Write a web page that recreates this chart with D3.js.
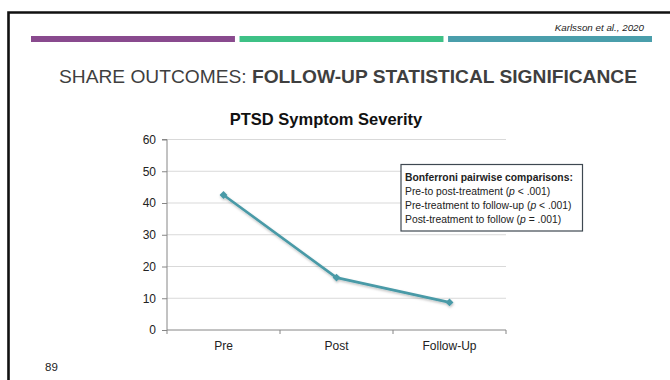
<!DOCTYPE html>
<html>
<head>
<meta charset="utf-8">
<script src="https://cdn.jsdelivr.net/npm/d3@7"></script>
<style>
  html, body { margin: 0; padding: 0; background: #fff; }
  svg { display: block; font-family: "Liberation Sans", Arial, sans-serif; }
</style>
</head>
<body>
<svg id="slide" width="670" height="380"></svg>
<script>
// Data
const categories = ["Pre", "Post", "Follow-Up"];
const severity = [42.5, 16.5, 8.7];
const yTicks = [0, 10, 20, 30, 40, 50, 60];
const comparisons = [
  ["Pre-to post-treatment (", "p", " < .001)"],
  ["Pre-treatment to follow-up (", "p", " < .001)"],
  ["Post-treatment to follow (", "p", " = .001)"]
];
const accentColors = ["#894a8e", "#3ec186", "#4a9eab"];

const svg = d3.select("#slide");

// Slide frame
svg.append("path")
  .attr("d", "M8.5,380 V12.5 H670")
  .attr("fill", "none")
  .attr("stroke", "#111")
  .attr("stroke-width", 2.6);

// Accent bars
const barX = d3.scaleBand().domain(d3.range(3)).range([31, 652]).paddingInner(0.022);
svg.selectAll("rect.accent").data(accentColors).join("rect")
  .attr("class", "accent")
  .attr("x", (d, i) => barX(i))
  .attr("y", 36)
  .attr("width", barX.bandwidth())
  .attr("height", 6)
  .attr("fill", d => d);

// Citation
svg.append("text")
  .attr("x", 644).attr("y", 31)
  .attr("text-anchor", "end")
  .attr("font-size", 9.8)
  .attr("font-style", "italic")
  .attr("fill", "#222")
  .text("Karlsson et al., 2020");

// Heading
const heading = svg.append("text")
  .attr("x", 59).attr("y", 83)
  .attr("font-size", 17.5)
  .attr("textLength", 578)
  .attr("lengthAdjust", "spacingAndGlyphs")
  .attr("fill", "#3f3f3f");
heading.append("tspan").text("SHARE OUTCOMES: ");
heading.append("tspan").attr("font-weight", "bold").text("FOLLOW-UP STATISTICAL SIGNIFICANCE");

// Chart title
svg.append("text")
  .attr("x", 326).attr("y", 125)
  .attr("text-anchor", "middle")
  .attr("font-size", 16.5)
  .attr("font-weight", "bold")
  .attr("fill", "#111")
  .text("PTSD Symptom Severity");

// Scales
const x = d3.scaleBand().domain(categories).range([167, 506]);
const y = d3.scaleLinear().domain([0, 60]).range([330, 139.5]);

// Gridlines
svg.append("g").selectAll("line").data(yTicks.filter(t => t > 0)).join("line")
  .attr("x1", 167).attr("x2", 506)
  .attr("y1", d => y(d)).attr("y2", d => y(d))
  .attr("stroke", "#d9d9d9").attr("stroke-width", 1);

// Y axis
const yAxis = svg.append("g")
  .attr("transform", "translate(167,0)")
  .call(d3.axisLeft(y).tickValues(yTicks).tickSize(5).tickPadding(6));
yAxis.attr("font-size", 12).attr("font-family", "Liberation Sans, Arial, sans-serif");
yAxis.select(".domain").attr("stroke", "#868686").attr("d", `M-5,${y(60)}H0V${y(0)}`);
yAxis.selectAll(".tick line").attr("stroke", "#868686");
yAxis.selectAll(".tick text").attr("fill", "#222");

// X axis with ticks at category boundaries
const xAxisG = svg.append("g").attr("transform", `translate(0,${y(0)})`);
xAxisG.append("line")
  .attr("x1", 167).attr("x2", 506)
  .attr("stroke", "#868686").attr("stroke-width", 1);
const bounds = categories.map(c => x(c)).concat([x.range()[1]]);
xAxisG.selectAll("line.tk").data(bounds).join("line")
  .attr("class", "tk")
  .attr("x1", d => d).attr("x2", d => d)
  .attr("y1", 0).attr("y2", 4)
  .attr("stroke", "#868686");
xAxisG.selectAll("text").data(categories).join("text")
  .attr("x", d => x(d) + x.bandwidth() / 2)
  .attr("y", 20)
  .attr("text-anchor", "middle")
  .attr("font-size", 12)
  .attr("fill", "#222")
  .text(d => d);

// Soft shadow for the series
const defs = svg.append("defs");
const shadow = defs.append("filter").attr("id", "shade")
  .attr("x", "-20%").attr("y", "-20%").attr("width", "140%").attr("height", "160%");
shadow.append("feDropShadow")
  .attr("dx", 0.5).attr("dy", 1.5).attr("stdDeviation", 1.2)
  .attr("flood-color", "#000").attr("flood-opacity", 0.25);

const pts = categories.map((c, i) => [x(c) + x.bandwidth() / 2, y(severity[i])]);

const series = svg.append("g").attr("filter", "url(#shade)");
series.append("path")
  .attr("d", d3.line()(pts))
  .attr("fill", "none")
  .attr("stroke", "#4a9aa7")
  .attr("stroke-width", 2.6)
  .attr("stroke-linejoin", "round");
series.selectAll("path.mk").data(pts).join("path")
  .attr("class", "mk")
  .attr("d", d3.symbol(d3.symbolDiamond2, 40)())
  .attr("transform", d => `translate(${d[0]},${d[1]})`)
  .attr("fill", "#4a9aa7");

// Comparisons box
const box = svg.append("g");
box.append("rect")
  .attr("x", 401).attr("y", 164.5)
  .attr("width", 181.5).attr("height", 66.5)
  .attr("fill", "#fff")
  .attr("stroke", "#3e4851")
  .attr("stroke-width", 1.2);
const boxText = box.append("g").attr("transform", "translate(405,0) scale(0.9,1)");
boxText.append("text")
  .attr("x", 0).attr("y", 181)
  .attr("font-size", 11.5)
  .attr("font-weight", "bold")
  .attr("fill", "#222")
  .text("Bonferroni pairwise comparisons:");
comparisons.forEach((parts, i) => {
  const t = boxText.append("text")
    .attr("x", 0).attr("y", 195 + i * 14.2)
    .attr("font-size", 11.5)
    .attr("fill", "#222");
  t.append("tspan").text(parts[0]);
  t.append("tspan").attr("font-style", "italic").text(parts[1]);
  t.append("tspan").text(parts[2]);
});

// Slide number
svg.append("text")
  .attr("x", 45).attr("y", 370.5)
  .attr("font-size", 11.5)
  .attr("fill", "#222")
  .text("89");
</script>
</body>
</html>
